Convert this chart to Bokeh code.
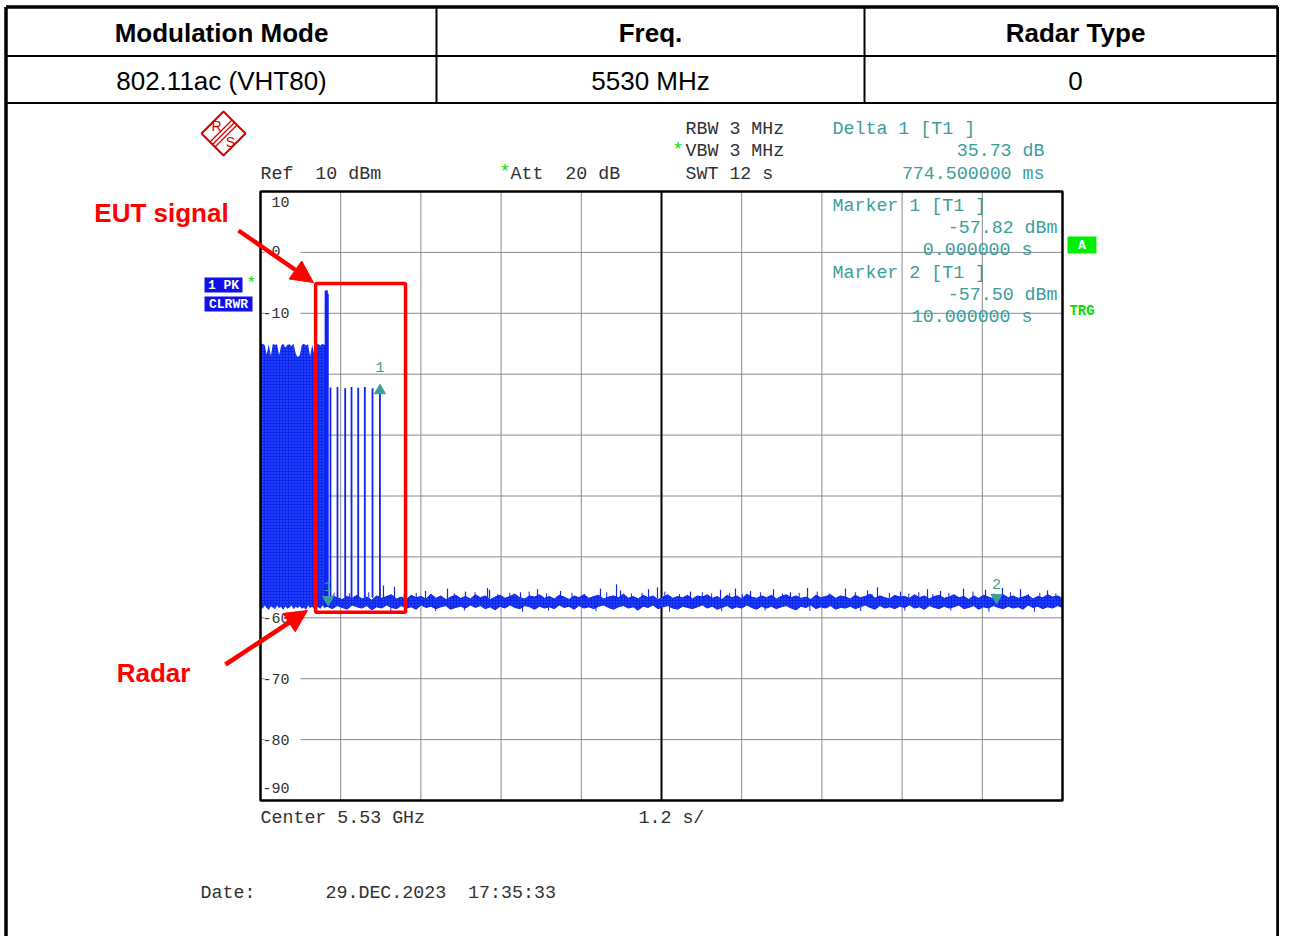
import numpy as np
from bokeh.plotting import figure
from bokeh.models import Range1d, Arrow, NormalHead
from bokeh.core.properties import value
from bokeh.embed import file_html
from bokeh.resources import INLINE

NB = "\u00a0"

# ---------------- data ----------------
table_headers = ["Modulation Mode", "Freq.", "Radar Type"]
table_values = ["802.11ac (VHT80)", "5530 MHz", "0"]

time_ticks = [0.0, 1.2, 2.4, 3.6, 4.8, 6.0, 7.2, 8.4, 9.6, 10.8, 12.0]
level_ticks = [10, 0, -10, -20, -30, -40, -50, -60, -70, -80, -90]
level_labels = ["10", "0", "-10", "-20", "-30", "-40", "-50", "-60", "-70", "-80", "-90"]

# EUT transmission block (dBm), sweep points 0 .. 0.99 s
block_top = [-15.1, -15.0, -15.2, -16.8, -15.1, -17.0, -15.0, -15.2, -15.1, -16.9, -15.3,
             -15.0, -15.6, -15.2, -15.1, -15.4, -15.0, -16.6, -17.2, -16.9, -15.2, -15.0,
             -15.3, -15.1, -17.1, -15.2, -16.8, -15.0, -15.1, -15.3, -15.0, -15.2, -15.1]
block_bottom = [-58.2, -58.5, -58.0, -58.4, -58.7, -58.1, -58.3, -58.6, -58.0, -58.4, -58.2,
                -58.7, -58.1, -58.5, -58.3, -58.0, -58.6, -58.2, -58.4, -58.1, -58.5, -58.3,
                -58.7, -58.0, -58.4, -58.2, -58.6, -58.1, -58.3, -58.5, -58.0, -58.4, -58.2]

# last EUT burst
eut_t = [0.975, 0.992, 1.006]
eut_peak = [-6.3, -6.2, -6.8]

# radar pulses
pulse_t = [1.047, 1.152, 1.267, 1.362, 1.462, 1.561, 1.676, 1.787]
pulse_peak = [-22.2, -22.1, -22.3, -22.1, -22.2, -22.1, -22.3, -22.09]

# noise floor envelope, 1.0 .. 12.0 s
floor_hi = [
    -56.9, -56.4, -56.7, -57.0, -56.5, -56.8, -56.3, -56.9, -56.6, -57.1, -56.4, -56.8, -56.5, -56.2, -56.9,
    -56.6, -57.0, -56.3, -56.7, -56.5, -56.9, -56.1, -56.8, -56.4, -57.0, -56.6, -56.3, -56.8, -56.5, -56.9,
    -56.2, -56.7, -56.4, -57.0, -56.6, -56.3, -56.8, -56.5, -56.1, -56.7, -56.9, -56.4, -56.6, -56.2, -56.8,
    -56.5, -56.9, -56.3, -56.6, -57.0, -56.4, -56.7, -56.2, -56.8, -56.5, -56.3, -56.9, -56.6, -56.4, -56.7,
    -56.1, -56.8, -56.5, -56.9, -56.3, -56.7, -56.4, -57.0, -56.6, -56.2, -56.8, -56.5, -56.7, -56.3, -56.9,
    -56.4, -56.6, -56.2, -56.8, -56.5, -57.0, -56.3, -56.7, -56.4, -56.9, -56.1, -56.6, -56.8, -56.4, -56.7,
    -56.3, -56.9, -56.5, -56.2, -56.7, -56.4, -56.8, -56.6, -57.0, -56.3, -56.7, -56.5, -56.2, -56.8, -56.4,
    -56.6, -56.9, -56.3, -56.7, -56.5, -56.1, -56.8, -56.4, -56.7, -56.9, -56.3, -56.6, -56.5, -56.8, -56.2,
    -56.7, -56.4, -56.9, -56.5, -56.3, -56.8, -56.6, -56.2, -56.7, -56.5, -57.0, -56.4, -56.8, -56.3, -56.6,
    -56.9, -56.5, -56.2, -56.7, -56.4, -56.8, -56.6, -56.3, -56.9, -56.5, -56.7, -56.2, -56.6, -56.4, -56.8]
floor_lo = [
    -58.1, -58.5, -58.0, -58.3, -58.6, -57.9, -58.2, -58.4, -58.0, -58.7, -58.2, -58.4, -57.9, -58.3, -58.5,
    -58.0, -58.4, -58.2, -58.6, -57.9, -58.3, -58.1, -58.5, -58.2, -58.0, -58.6, -58.3, -58.1, -58.4, -57.9,
    -58.3, -58.0, -58.5, -58.2, -58.7, -58.1, -58.4, -57.9, -58.3, -58.5, -58.0, -58.2, -58.6, -58.1, -58.4,
    -58.2, -58.5, -57.9, -58.3, -58.1, -58.6, -58.0, -58.4, -58.2, -58.5, -58.1, -57.9, -58.3, -58.6, -58.2,
    -58.0, -58.4, -58.2, -58.7, -58.1, -58.3, -57.9, -58.5, -58.2, -58.0, -58.4, -58.6, -58.1, -58.3, -58.5,
    -58.2, -57.9, -58.4, -58.1, -58.6, -58.3, -58.0, -58.5, -58.2, -58.4, -57.9, -58.3, -58.6, -58.1, -58.4,
    -58.1, -58.5, -58.2, -58.0, -58.4, -58.7, -58.1, -58.3, -57.9, -58.5, -58.2, -58.4, -58.0, -58.6, -58.3,
    -58.4, -58.1, -58.5, -58.2, -57.9, -58.3, -58.6, -58.0, -58.4, -58.2, -58.5, -58.1, -58.3, -57.9, -58.4,
    -58.2, -58.6, -58.0, -58.3, -58.5, -58.1, -58.4, -58.2, -57.9, -58.5, -58.3, -58.0, -58.6, -58.2, -58.4,
    -58.0, -58.3, -58.5, -58.1, -58.4, -58.2, -58.6, -57.9, -58.3, -58.1, -58.5, -58.2, -58.4, -58.0, -58.3]

spike_t = [1.840, 2.005, 2.469, 2.798, 3.067, 3.397, 3.427, 3.890, 4.145, 4.489, 5.087,
           5.327, 5.387, 5.806, 5.940, 6.434, 6.883, 7.107, 7.332, 7.676, 7.930, 8.185,
           8.753, 9.083, 9.232, 9.576, 9.980, 10.175, 10.519, 10.848, 11.102, 11.372, 11.776]
spike_top = [-54.7, -54.9, -55.6, -55.2, -55.7, -55.1, -55.4, -55.8, -55.3, -55.6, -55.2,
             -54.5, -55.5, -55.3, -55.0, -55.7, -55.4, -55.2, -55.6, -55.3, -55.8, -55.1,
             -55.2, -55.5, -55.0, -55.7, -55.3, -55.6, -55.2, -55.4, -55.1, -55.3, -55.5]
small_t = [1.10, 1.33, 1.62, 2.15, 2.33, 2.90, 3.21, 3.55, 3.73, 4.02, 4.28, 4.66, 4.85, 5.18, 5.55,
           5.71, 6.05, 6.27, 6.61, 6.75, 7.02, 7.21, 7.48, 7.81, 8.06, 8.33, 8.51, 8.90, 9.15, 9.41,
           9.70, 9.85, 10.06, 10.30, 10.66, 10.97, 11.22, 11.49, 11.66, 11.90]
small_top = [-55.9, -56.0, -55.8, -56.1, -55.9, -56.0, -55.8, -56.1, -55.9, -55.7, -56.0, -55.9, -56.1, -55.8, -56.0,
             -55.9, -55.7, -56.1, -55.8, -56.0, -55.9, -56.1, -55.8, -56.0, -55.9, -55.7, -56.0, -55.8, -56.1, -55.9,
             -56.0, -55.8, -56.1, -55.9, -55.7, -56.0, -55.8, -56.1, -55.9, -56.0]
dip_t = [1.95, 2.62, 3.05, 3.92, 4.31, 5.02, 5.63, 6.12, 6.90, 7.55, 8.22, 8.98, 9.64, 10.33, 10.90, 11.58]
dip_bottom = [-58.9, -58.9, -58.8, -59.0, -58.8, -58.9, -58.8, -59.0, -58.9, -58.8, -58.9, -58.9, -58.8, -58.8, -59.0, -59.0]

# marker readouts
marker_time_s = [0.0, 10.0]
marker_level_dbm = [-57.82, -57.50]
delta_time_ms = 774.5
delta_level_db = 35.73
trigger_offset_s = 1.013

# ---------------- layout constants (reference pixels) ----------------
W, H = 1279, 936
PX0, PY0 = 0, 0
FX0, FX1, FY0, FY1 = 260, 1062, 191, 800   # grid frame in page pixels


def t_of(px):
    return time_ticks[0] + (px - FX0) * (time_ticks[-1] - time_ticks[0]) / (FX1 - FX0)


def l_of(py):
    return level_ticks[0] - (py - FY0) * (level_ticks[0] - level_ticks[-1]) / (FY1 - FY0)


p = figure(width=W, height=H,
           x_range=Range1d(t_of(PX0), t_of(PX0 + W)),
           y_range=Range1d(l_of(PY0 + H), l_of(PY0)),
           x_axis_location=None, y_axis_location=None,
           toolbar_location=None, output_backend="svg",
           min_border=0, outline_line_color=None,
           background_fill_color="white", border_fill_color="white")
p.grid.visible = False
p.extra_x_ranges = {"px": Range1d(PX0, PX0 + W)}
p.extra_y_ranges = {"px": Range1d(PY0 + H, PY0)}
PXR = dict(x_range_name="px", y_range_name="px")

MONO = value("Liberation Mono")
SANS = value("Liberation Sans")
TEAL = "#3a9e9c"
TRACE = "#1024f0"
GREEN = "#00e000"


def ptext(x, y, s, size="18.3px", color="#303030", font=MONO, align="left", bold=False):
    p.text(x=[x], y=[y], text=[s.replace(" ", NB)], text_font=font, text_font_size=size,
           text_color=color, text_align=align, text_baseline="middle",
           text_font_style="bold" if bold else "normal", **PXR)


# ---------------- page border & table ----------------
p.segment(x0=[5.5, 5.5, 1277.5], y0=[6.5, 6.5, 6.5], x1=[5.5, 1277.5, 1277.5], y1=[940, 6.5, 940],
          line_color="black", line_width=3.5, **PXR)
p.segment(x0=[5.5, 5.5, 436, 864], y0=[55.5, 102.5, 6.5, 6.5],
          x1=[1277.5, 1277.5, 436, 864], y1=[55.5, 102.5, 102.5, 102.5],
          line_color="black", line_width=2, **PXR)
col_centers = [221, 650, 1075]
for cx, h, v in zip(col_centers, table_headers, table_values):
    ptext(cx, 32, h, size="26px", color="black", font=SANS, align="center", bold=True)
    ptext(cx, 80, v, size="26px", color="black", font=SANS, align="center")

# ---------------- R&S logo ----------------
p.patch(x=[223, 245, 223, 201], y=[111, 133, 155, 133], fill_color=None,
        line_color="#d40000", line_width=2, **PXR)
p.segment(x0=[231.5, 234, 236.5], y0=[119.5, 122, 124.5], x1=[209.5, 212, 214.5], y1=[141.5, 144, 146.5],
          line_color="#d40000", line_width=1.2, **PXR)
ptext(216, 125, "R", size="14px", color="#d40000", font=SANS, align="center")
ptext(230, 141, "S", size="14px", color="#d40000", font=SANS, align="center")

# ---------------- instrument header text ----------------
ptext(260, 173, "Ref  10 dBm")
ptext(499, 171, "*", color=GREEN)
ptext(510, 173, "Att  20 dB")
ptext(685, 128, "RBW 3 MHz")
ptext(672, 149, "*", color=GREEN)
ptext(685, 150, "VBW 3 MHz")
ptext(685, 173, "SWT 12 s")
ptext(832, 128, "Delta 1 [T1 ]", color=TEAL)
ptext(1044, 150, f"{delta_level_db:.2f} dB", color=TEAL, align="right")
ptext(1044, 173, f"{delta_time_ms:.6f} ms", color=TEAL, align="right")

# trace labels
p.quad(left=[204, 204], right=[242, 252], top=[277, 296], bottom=[292, 311],
       fill_color="#1010e8", line_color=None, **PXR)
ptext(223, 285, "1 PK", size="13px", color="white", align="center", bold=True)
ptext(228, 304, "CLRWR", size="13px", color="white", align="center", bold=True)
ptext(246, 283, "*", size="16px", color=GREEN)
p.quad(left=[1067], right=[1096], top=[236], bottom=[253], fill_color="#00ee00", line_color=None, **PXR)
ptext(1081.5, 245, "A", size="13px", color="white", align="center", bold=True)
ptext(1081.5, 310, "TRG", size="14px", color="#00dd00", align="center", bold=True)

# ---------------- grid ----------------
inner_t = time_ticks[1:-1]
p.segment(x0=inner_t, y0=[level_ticks[-1]] * len(inner_t), x1=inner_t, y1=[level_ticks[0]] * len(inner_t),
          line_color="#8a8a8a", line_width=1)
inner_l = level_ticks[1:-1]
p.segment(x0=[time_ticks[0]] * len(inner_l), y0=inner_l, x1=[time_ticks[-1]] * len(inner_l), y1=inner_l,
          line_color="#8a8a8a", line_width=1)
mid = time_ticks[len(time_ticks) // 2]
p.segment(x0=[mid], y0=[level_ticks[-1]], x1=[mid], y1=[level_ticks[0]], line_color="black", line_width=2)

# marker readouts inside frame
for i, (name, lev, tm) in enumerate(zip(["Marker 1 [T1 ]", "Marker 2 [T1 ]"], marker_level_dbm, marker_time_s)):
    y0 = 205 + i * 67
    ptext(832, y0, name, color=TEAL)
    ptext(1057, y0 + 22, f"{lev:.2f} dBm", color=TEAL, align="right")
    ptext(1032, y0 + 44, f"{tm:.6f} s", color=TEAL, align="right")

# level labels
dx_lab = t_of(262) - t_of(260)
lab_y = list(level_ticks)
lab_y[0] = level_ticks[0] - 2.0
lab_y[-1] = level_ticks[-1] + 2.1
lab_txt = [s if s.startswith("-") else NB + s for s in level_labels]
p.rect(x=[t_of(282)] * (len(level_ticks) - 2), y=level_ticks[1:-1], width=t_of(300) - t_of(264),
       height=2.2, fill_color="white", line_color=None)
p.text(x=[time_ticks[0] + dx_lab] * len(lab_y), y=lab_y, text=lab_txt, text_font=MONO,
       text_font_size="15px", text_color="#303030", text_baseline="middle", text_align="left")

# ---------------- trace ----------------
block_t = np.linspace(0.0, 0.99, len(block_top))
hatch = dict(hatch_pattern="dot", hatch_color="#4ab8ff", hatch_alpha=0.5, hatch_scale=3)
p.varea(x=block_t, y1=block_bottom, y2=block_top, fill_color=TRACE, **hatch)
floor_t = np.linspace(1.0, 12.0, len(floor_hi))
p.varea(x=floor_t, y1=floor_lo, y2=floor_hi, fill_color=TRACE, **hatch)
p.line(x=floor_t, y=floor_hi, line_color=TRACE, line_width=1)
p.line(x=floor_t, y=floor_lo, line_color=TRACE, line_width=1)
p.segment(x0=eut_t, y0=[block_bottom[-1]] * len(eut_t), x1=eut_t, y1=eut_peak, line_color=TRACE, line_width=2)
p.segment(x0=pulse_t, y0=[floor_hi[2]] * len(pulse_t), x1=pulse_t, y1=pulse_peak, line_color=TRACE, line_width=1.8)
p.segment(x0=spike_t, y0=[-56.8] * len(spike_t), x1=spike_t, y1=spike_top, line_color=TRACE, line_width=1.2)
p.segment(x0=small_t, y0=[-56.8] * len(small_t), x1=small_t, y1=small_top, line_color=TRACE, line_width=1)
p.segment(x0=dip_t, y0=[-58.0] * len(dip_t), x1=dip_t, y1=dip_bottom, line_color=TRACE, line_width=1)

# ---------------- markers ----------------
mx = [trigger_offset_s + t for t in marker_time_s]
p.scatter(x=mx, y=[l + 0.8 for l in marker_level_dbm], marker="inverted_triangle", size=11,
          fill_color=TEAL, line_color=TEAL)
p.text(x=mx, y=[l + 3.0 for l in marker_level_dbm], text=["1", "2"], text_font=MONO,
       text_font_size="15px", text_color=TEAL, text_align="center", text_baseline="middle")
dxm = trigger_offset_s + delta_time_ms / 1000.0
dyl = marker_level_dbm[0] + delta_level_db
p.scatter(x=[dxm], y=[dyl - 0.6], marker="triangle", size=11, fill_color=TEAL, line_color=TEAL)
p.text(x=[dxm], y=[dyl + 3.2], text=["1"], text_font=MONO, text_font_size="15px",
       text_color=TEAL, text_align="center", text_baseline="middle")

# frame
p.quad(left=[time_ticks[0]], right=[time_ticks[-1]], top=[level_ticks[0]], bottom=[level_ticks[-1]],
       fill_color=None, line_color="black", line_width=2.5)

# ---------------- red highlight ----------------
box_l = eut_t[0] - 0.15
box_r = pulse_t[-1] + 0.383
box_top = max(eut_peak) + 1.1
box_bot = min(block_bottom) - 0.4
p.quad(left=[box_l], right=[box_r], top=[box_top], bottom=[box_bot], fill_color=None,
       line_color="#ff0000", line_width=3.5)
p.add_layout(Arrow(end=NormalHead(size=22, fill_color="#ff0000", line_color="#ff0000"),
                   x_start=238, y_start=230, x_end=313, y_end=282,
                   line_color="#ff0000", line_width=4.5, **PXR))
p.add_layout(Arrow(end=NormalHead(size=22, fill_color="#ff0000", line_color="#ff0000"),
                   x_start=225, y_start=664, x_end=307, y_end=610,
                   line_color="#ff0000", line_width=4.5, **PXR))
ptext(161, 212, "EUT signal", size="26px", color="#ff0000", font=SANS, align="center", bold=True)
ptext(153, 672, "Radar", size="26px", color="#ff0000", font=SANS, align="center", bold=True)

# ---------------- bottom text ----------------
ptext(260, 817, "Center 5.53 GHz")
ptext(638, 817, "1.2 s/")
ptext(200, 892, "Date:")
ptext(325, 892, "29.DEC.2023  17:35:33")

open("out.html", "w").write(file_html(p, INLINE))
